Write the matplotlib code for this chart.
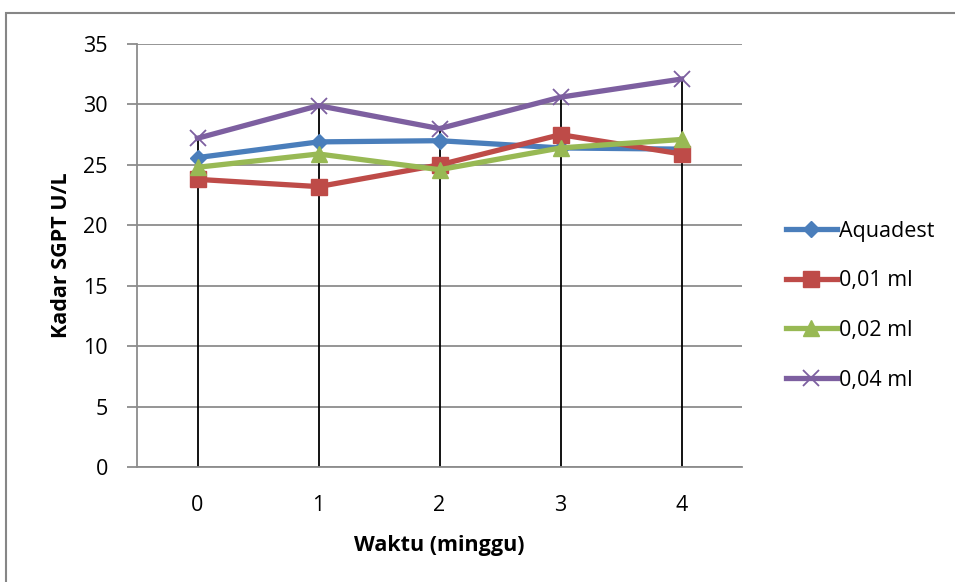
import matplotlib
matplotlib.use("Agg")
import matplotlib.pyplot as plt
from matplotlib.patches import Rectangle

weeks = [0, 1, 2, 3, 4]
week_labels = ["0", "1", "2", "3", "4"]
aquadest = [25.6, 26.9, 27.0, 26.4, 26.3]
ml001 = [23.8, 23.2, 25.0, 27.5, 25.9]
ml002 = [24.8, 25.9, 24.6, 26.4, 27.1]
ml004 = [27.2, 29.9, 28.0, 30.6, 32.1]
series_names = ["Aquadest", "0,01 ml", "0,02 ml", "0,04 ml"]
y_ticks = [0, 5, 10, 15, 20, 25, 30, 35]

plt.rcParams['font.family'] = ['Open Sans', 'DejaVu Sans']

fig = plt.figure(figsize=(9.55, 5.82), dpi=100)
# outer chart border
fig.patches.append(Rectangle((6/955, -0.01), 1.0, 1 - 13/582 + 0.01,
                             transform=fig.transFigure, fill=False,
                             edgecolor='#868686', linewidth=1.5))

ax = fig.add_axes([137/955, 1 - 467/582, (742 - 137)/955, (467 - 44)/582])

# drop lines
series_all = [aquadest, ml001, ml002, ml004]
tops = [max(vals) for vals in zip(*series_all)]
ax.vlines(weeks, 0, tops, colors='black', linewidth=1.3, zorder=2)

styles = [
    dict(color='#4A7EBB', marker='D', markersize=8),
    dict(color='#BE4B48', marker='s', markersize=11),
    dict(color='#98B954', marker='^', markersize=11),
    dict(color='#7D5FA0', marker='x', markersize=11, markeredgewidth=1.3),
]
for vals, name, st in zip(series_all, series_names, styles):
    ax.plot(weeks, vals, label=name, linewidth=3.8, zorder=3, **st)

ax.set_xlim(-0.5, 4.5)
ax.set_ylim(0, 35)
ax.set_yticks(y_ticks)
ax.set_xticks(weeks)
ax.set_xticklabels(week_labels)
ax.yaxis.grid(True, color='#8C8C8C', linewidth=1.3)
ax.set_axisbelow(True)
for s in ['top', 'right']:
    ax.spines[s].set_visible(False)
for s in ['left', 'bottom']:
    ax.spines[s].set_color('#8C8C8C')
    ax.spines[s].set_linewidth(1.3)
ax.tick_params(axis='y', length=7, width=1.3, color='#8C8C8C', labelsize=15.5, pad=14)
ax.tick_params(axis='x', length=0, labelsize=15.5, pad=20)

ax.set_xlabel("Waktu (minggu)", fontsize=15.5, fontweight='bold', labelpad=14)
ax.set_ylabel("Kadar SGPT U/L", fontsize=15.5, fontweight='bold', labelpad=8)

leg = fig.legend(loc='upper left', bbox_to_anchor=(777/955, 1 - 212/582),
                 frameon=False, fontsize=15.5, handlelength=2.4,
                 handletextpad=0.1, labelspacing=1.33, borderaxespad=0)

fig.savefig("out.png", dpi=100)
